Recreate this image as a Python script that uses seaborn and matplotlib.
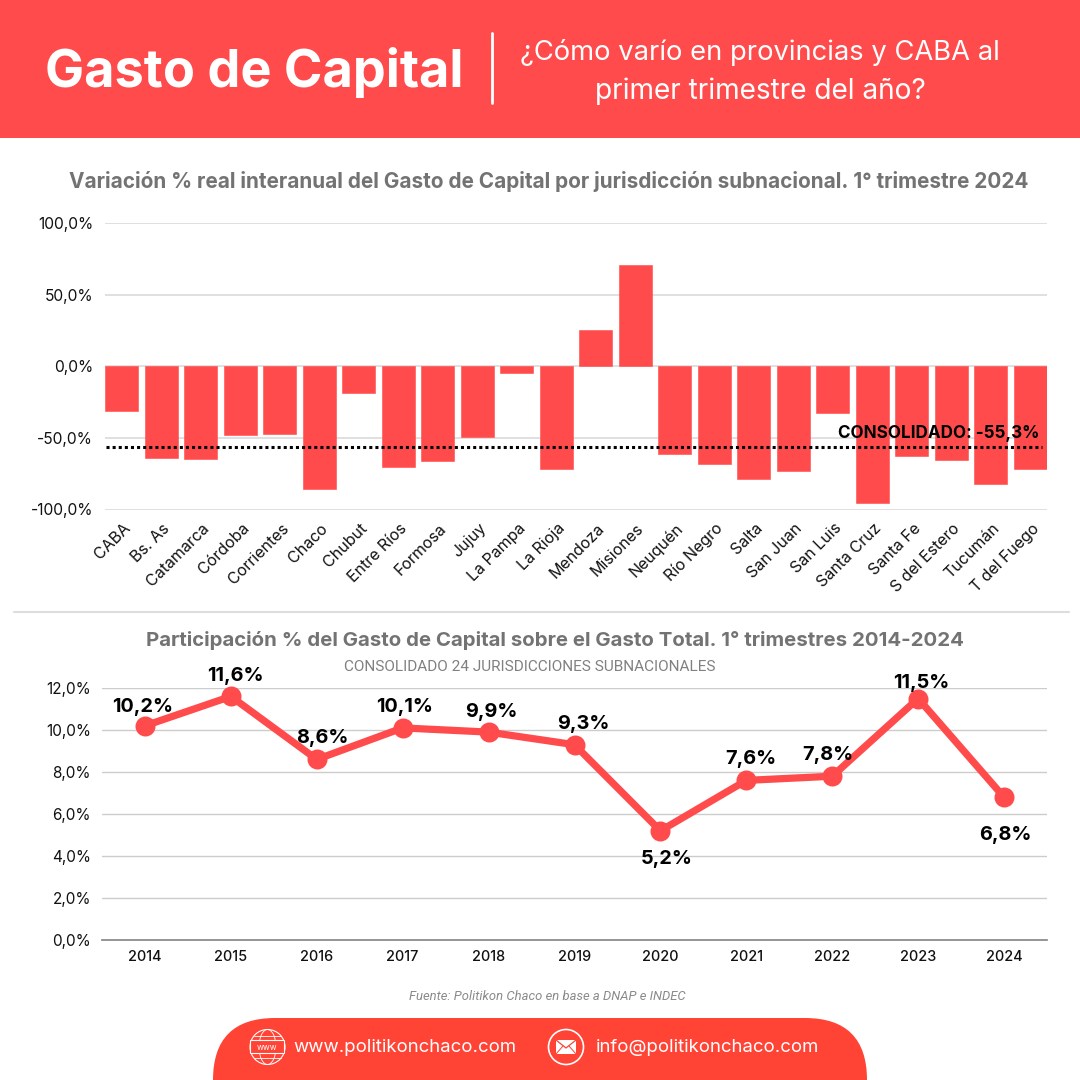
import matplotlib
matplotlib.use("Agg")
import matplotlib.pyplot as plt
from matplotlib.patches import Rectangle, FancyBboxPatch, Circle, Ellipse
from matplotlib.transforms import ScaledTranslation
import pandas as pd
import seaborn as sns

# Bars: real interannual change by jurisdiction
provinces = ["CABA", "Bs. As", "Catamarca", "Córdoba", "Corrientes", "Chaco", "Chubut",
             "Entre Ríos", "Formosa", "Jujuy", "La Pampa", "La Rioja", "Mendoza", "Misiones",
             "Neuquén", "Río Negro", "Salta", "San Juan", "San Luis", "Santa Cruz", "Santa Fe",
             "S del Estero", "Tucumán", "T del Fuego"]
variation = [-31, -64, -65, -48, -47, -85.5, -18.5, -70.5, -66, -49.5, -5, -72,
             25, 70.5, -61.5, -68.5, -78.5, -73, -32.5, -95.5, -62.5, -65.5, -82.5, -72]
consolidated_line = -56.5
consolidated_label = "CONSOLIDADO: -55,3%"

# Line: share of capital spending over total spending
years = ["2014", "2015", "2016", "2017", "2018", "2019", "2020", "2021", "2022", "2023", "2024"]
share = [10.2, 11.6, 8.6, 10.1, 9.9, 9.3, 5.2, 7.6, 7.8, 11.5, 6.8]
share_labels = ["10,2%", "11,6%", "8,6%", "10,1%", "9,9%", "9,3%", "5,2%", "7,6%", "7,8%", "11,5%", "6,8%"]
label_offsets = [(-2, 19), (5, 20), (6, 21), (2, 21), (3, 20), (9, 21), (6, -28), (4, 21), (-4, 21), (3, 16), (1, -38)]

RED = "#FF4B4B"
FOOT = "#FF4335"
GREY = "#737373"
GRID = "#DDDDDD"
W = H = 1080


def px_axes(fig, left, top, right, bottom):
    # axes placed with picture pixels, y counted from the top
    return fig.add_axes([left / W, 1 - bottom / H, (right - left) / W, (bottom - top) / H])


sns.set_theme(style="white")
plt.rcParams["font.family"] = ["Inter", "DejaVu Sans"]
fig = plt.figure(figsize=(10.8, 10.8), dpi=100, facecolor="white")

# background layer in pixels: header, footer, separator
bg = fig.add_axes([0, 0, 1, 1], zorder=0)
bg.set_xlim(0, W)
bg.set_ylim(H, 0)
bg.axis("off")
bg.add_patch(Rectangle((0, 0), W, 137.5, color=RED, lw=0))
bg.plot([492, 492], [33, 103], color="white", lw=2)
bg.plot([14, 1069], [612, 612], color="#DDDDDD", lw=1.5)
bg.add_patch(FancyBboxPatch((213 + 62, 1018 + 62), 654 - 124, 100, boxstyle="round,pad=62",
                            color=FOOT, lw=0, clip_on=True))
bg.text(45, 73, "Gasto de Capital", color="white", fontsize=37.6, fontweight="bold", va="center", ha="left")
bg.text(760, 53, "¿Cómo varío en provincias y CABA al", color="white", fontsize=19.7, va="center", ha="center")
bg.text(760, 91, "primer trimestre del año?", color="white", fontsize=20.2, va="center", ha="center")
bg.text(549, 181, "Variación % real interanual del Gasto de Capital por jurisdicción subnacional. 1° trimestre 2024",
        color=GREY, fontsize=14.95, fontweight="bold", va="center", ha="center")
bg.text(555, 641, "Participación % del Gasto de Capital sobre el Gasto Total. 1° trimestres 2014-2024",
        color=GREY, fontsize=14.7, fontweight="bold", va="center", ha="center")
bg.text(530, 667, "CONSOLIDADO 24 JURISDICCIONES SUBNACIONALES", color="#808080", fontsize=11.1,
        family="Roboto", va="center", ha="center")
bg.text(547, 996, "Fuente: Politikon Chaco en base a DNAP e INDEC", color="#8A8A8A", fontsize=9.4,
        family="Roboto", style="italic", va="center", ha="center")
bg.text(293, 1048, "www.politikonchaco.com", color="white", fontsize=13.4, va="center", ha="left")
bg.text(596, 1048, "info@politikonchaco.com", color="white", fontsize=13.4, va="center", ha="left")

# globe icon
bg.add_patch(Circle((267.5, 1047), 17.5, fill=False, ec="white", lw=0.8))
bg.add_patch(Ellipse((267.5, 1047), 17, 35, fill=False, ec="white", lw=0.6))
for dy in (-11, 11):
    bg.plot([254, 281], [1047 + dy, 1047 + dy], color="white", lw=0.6)
bg.add_patch(FancyBboxPatch((251, 1041), 33, 12, boxstyle="round,pad=0.5", fc=FOOT, ec="white", lw=0.8))
bg.text(267.5, 1047, "www", color="white", fontsize=6, va="center", ha="center")
# mail icon
bg.add_patch(Circle((566, 1047), 17.5, fill=False, ec="white", lw=1.2))
bg.add_patch(Rectangle((556, 1040), 20, 14, color="white", lw=0))
bg.plot([556, 566, 576], [1040, 1048, 1040], color=FOOT, lw=0.9)
bg.plot([556, 563], [1054, 1046], color=FOOT, lw=0.7)
bg.plot([576, 569], [1054, 1046], color=FOOT, lw=0.7)

# bars
ax1 = px_axes(fig, 105, 223, 1047, 509.5)
ax1.patch.set_alpha(0)
bars_df = pd.DataFrame({"provincia": provinces, "variacion": variation})
sns.barplot(data=bars_df, x="provincia", y="variacion", color=RED, saturation=1, width=0.84, ax=ax1, zorder=3)
for bar in ax1.patches:
    bar.set_edgecolor(RED)
    bar.set_linewidth(0.4)
    bar.set_joinstyle("round")
ax1.set_xlim(-0.425, 23.425)
ax1.set_ylim(-100, 100)
ax1.set_yticks([-100, -50, 0, 50, 100])
ax1.set_yticklabels(["-100,0%", "-50,0%", "0,0%", "50,0%", "100,0%"], fontsize=11.2, color="#111111")
ax1.set_xlabel("")
ax1.set_ylabel("")
ax1.grid(axis="y", color=GRID, lw=1.3, zorder=0)
ax1.set_axisbelow(True)
sns.despine(ax=ax1, left=True, bottom=True)
ax1.tick_params(axis="y", length=0, pad=8.5)
ax1.tick_params(axis="x", length=0, pad=8)
# nudge the rotated labels to line up with the bars
label_shift = ScaledTranslation(1 / 100, 0, fig.dpi_scale_trans)
for lab in ax1.get_xticklabels():
    lab.set_rotation(45)
    lab.set_ha("right")
    lab.set_rotation_mode("anchor")
    lab.set_fontsize(11.5)
    lab.set_color("#111111")
    lab.set_transform(lab.get_transform() + label_shift)
ax1.plot([-0.4, 23.3], [consolidated_line, consolidated_line], color="black", lw=2.2, ls=(0, (1, 1)), zorder=5)
ax1.annotate(consolidated_label, xy=(1, 0), xycoords="axes fraction", xytext=(-8, 76.5), textcoords="offset pixels",
             ha="right", va="center", fontsize=12.3, fontweight="bold", color="black", zorder=6)

# line
ax2 = px_axes(fig, 102, 688, 1047, 940)
ax2.patch.set_alpha(0)
line_df = pd.DataFrame({"anio": years, "share": share})
sns.pointplot(data=line_df, x="anio", y="share", color=RED, linewidth=5.2, markersize=10.5, ax=ax2, zorder=4)
for ln in ax2.lines:
    ln.set_clip_on(False)
ax2.set_xlim(-0.5, 10.5)
ax2.set_ylim(0, 12)
ax2.set_yticks(range(0, 13, 2))
ax2.set_yticklabels(["0,0%", "2,0%", "4,0%", "6,0%", "8,0%", "10,0%", "12,0%"], fontsize=11, color="#111111")
ax2.set_xlabel("")
ax2.set_ylabel("")
ax2.grid(axis="y", color="#CCCCCC", lw=1, zorder=0)
ax2.set_axisbelow(True)
sns.despine(ax=ax2, left=True)
ax2.spines["bottom"].set_color("#888888")
ax2.tick_params(axis="y", length=0, pad=8)
ax2.tick_params(axis="x", length=0, pad=7)
for lab in ax2.get_xticklabels():
    lab.set_fontsize(10.4)
    lab.set_color("#111111")
    lab.set_fontweight("medium")
for i, (val, txt, off) in enumerate(zip(share, share_labels, label_offsets)):
    ax2.annotate(txt, xy=(i, val), xytext=off, textcoords="offset pixels", ha="center", va="center",
                 fontsize=14.3, fontweight="bold", color="black", zorder=6, annotation_clip=False)

fig.savefig("out.png", dpi=100)
